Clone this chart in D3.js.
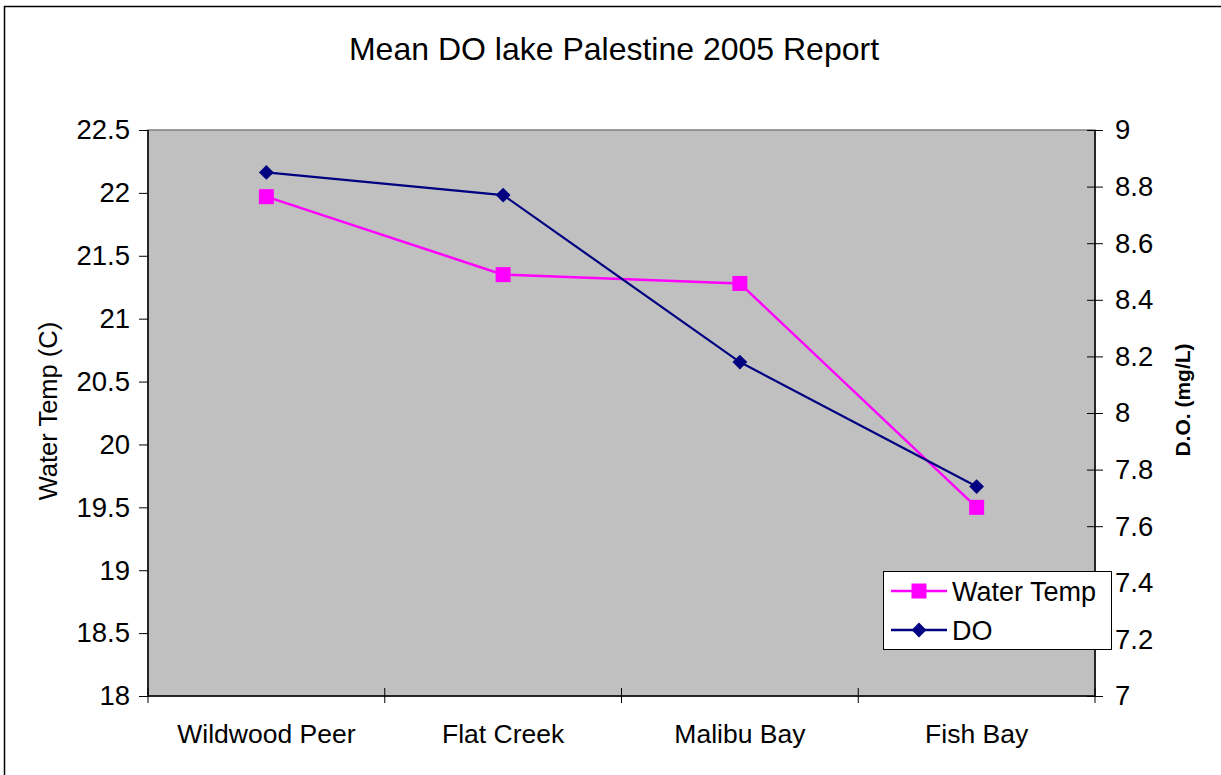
<!DOCTYPE html>
<html>
<head>
<meta charset="utf-8">
<script src="https://cdn.jsdelivr.net/npm/d3@7"></script>
<style>
  body { margin: 0; background: #fff; }
  text { font-family: "Liberation Sans", Arial, sans-serif; fill: #000; }
</style>
</head>
<body>
<script>
// chart data
const sites = ['Wildwood Peer', 'Flat Creek', 'Malibu Bay', 'Fish Bay'];
const waterTemp = [21.97, 21.35, 21.28, 19.5];
const dissolvedO2 = [8.85, 8.77, 8.18, 7.74];
const tempTicks = [18, 18.5, 19, 19.5, 20, 20.5, 21, 21.5, 22, 22.5];
const doTicks = [7, 7.2, 7.4, 7.6, 7.8, 8, 8.2, 8.4, 8.6, 8.8, 9];

const width = 1221, height = 775;
const plot = { left: 148, right: 1095, top: 130, bottom: 696 };

const svg = d3.select('body').append('svg')
  .attr('width', width)
  .attr('height', height);

// outer chart border
svg.append('rect')
  .attr('x', 4.5).attr('y', 6.5)
  .attr('width', width + 10).attr('height', height + 10)
  .attr('fill', '#fff')
  .attr('stroke', '#000').attr('stroke-width', 1.5);

// scales
const x = d3.scaleBand().domain(sites).range([plot.left, plot.right]);
const yL = d3.scaleLinear().domain([18, 22.5]).range([plot.bottom, plot.top]);
const yR = d3.scaleLinear().domain([7, 9]).range([plot.bottom, plot.top]);

// plot area
svg.append('rect')
  .attr('x', plot.left).attr('y', plot.top)
  .attr('width', plot.right - plot.left).attr('height', plot.bottom - plot.top)
  .attr('fill', '#c0c0c0')
  .attr('stroke', '#808080').attr('stroke-width', 1.5);

// left axis
const leftAxis = svg.append('g')
  .attr('transform', `translate(${plot.left},0)`)
  .call(d3.axisLeft(yL).tickValues(tempTicks).tickSize(9).tickPadding(9).tickFormat(d3.format('')));

// right axis
const rightAxis = svg.append('g')
  .attr('transform', `translate(${plot.right},0)`)
  .call(d3.axisRight(yR).tickValues(doTicks).tickSize(8).tickPadding(12).tickFormat(d3.format('')));
rightAxis.selectAll('.tick line').attr('x1', -8);

// bottom axis with ticks between categories
const bottomAxis = svg.append('g')
  .attr('transform', `translate(0,${plot.bottom})`)
  .call(d3.axisBottom(x).tickSize(0).tickPadding(28));
bottomAxis.selectAll('.tick line').remove();
bottomAxis.selectAll('.boundary')
  .data(d3.range(sites.length + 1))
  .enter().append('line')
  .attr('x1', i => plot.left + i * x.step())
  .attr('x2', i => plot.left + i * x.step())
  .attr('y1', -8).attr('y2', 7)
  .attr('stroke', '#000');

[leftAxis, rightAxis, bottomAxis].forEach(g => {
  g.select('.domain').attr('stroke', '#000').attr('stroke-width', 1.5);
  g.selectAll('.tick line').attr('stroke', '#000');
  g.selectAll('text').style('font-size', '27.5px').attr('font-family', null);
});
bottomAxis.selectAll('text').style('font-size', '26.5px');
leftAxis.select('.domain').attr('d', `M0,${plot.top}V${plot.bottom}`);
rightAxis.select('.domain').attr('d', `M0,${plot.top}V${plot.bottom}`);
bottomAxis.select('.domain').attr('d', `M${plot.left},0H${plot.right}`);

const cx = d => x(d) + x.bandwidth() / 2;

// water temp series
svg.append('path')
  .datum(waterTemp)
  .attr('fill', 'none')
  .attr('stroke', '#ff00ff').attr('stroke-width', 2.5)
  .attr('d', d3.line().x((d, i) => cx(sites[i])).y(d => yL(d)));
svg.selectAll('.sq')
  .data(waterTemp)
  .enter().append('rect')
  .attr('x', (d, i) => cx(sites[i]) - 7.5)
  .attr('y', d => yL(d) - 7.5)
  .attr('width', 15).attr('height', 15)
  .attr('fill', '#ff00ff');

// DO series
svg.append('path')
  .datum(dissolvedO2)
  .attr('fill', 'none')
  .attr('stroke', '#000080').attr('stroke-width', 2.2)
  .attr('d', d3.line().x((d, i) => cx(sites[i])).y(d => yR(d)));
svg.selectAll('.dm')
  .data(dissolvedO2)
  .enter().append('path')
  .attr('transform', (d, i) => `translate(${cx(sites[i])},${yR(d)}) rotate(45)`)
  .attr('d', d3.symbol().type(d3.symbolSquare).size(110))
  .attr('fill', '#000080');

// titles
svg.append('text')
  .attr('x', 614).attr('y', 60)
  .attr('text-anchor', 'middle')
  .style('font-size', '32px')
  .text('Mean DO lake Palestine 2005 Report');

svg.append('text')
  .attr('transform', 'translate(57,411) rotate(-90)')
  .attr('text-anchor', 'middle')
  .style('font-size', '25.5px')
  .text('Water Temp (C)');

svg.append('text')
  .attr('transform', 'translate(1190,400) rotate(-90)')
  .attr('text-anchor', 'middle')
  .style('font-size', '21px')
  .style('font-weight', 'bold')
  .text('D.O. (mg/L)');

// legend
const legend = svg.append('g').attr('transform', 'translate(883,571)');
legend.append('rect')
  .attr('x', 0.5).attr('y', 0.5)
  .attr('width', 228).attr('height', 78)
  .attr('fill', '#fff').attr('stroke', '#000').attr('stroke-width', 1);
const items = [
  { name: 'Water Temp', color: '#ff00ff', shape: 'square' },
  { name: 'DO', color: '#000080', shape: 'diamond' }
];
const row = legend.selectAll('.item')
  .data(items)
  .enter().append('g')
  .attr('transform', (d, i) => `translate(0,${20 + i * 39})`);
row.append('line')
  .attr('x1', 8).attr('x2', 64)
  .attr('stroke', d => d.color).attr('stroke-width', 2.5);
row.append('path')
  .attr('transform', d => `translate(36,0) rotate(${d.shape === 'diamond' ? 45 : 0})`)
  .attr('d', d => d3.symbol().type(d3.symbolSquare).size(d.shape === 'diamond' ? 110 : 225)())
  .attr('fill', d => d.color);
row.append('text')
  .attr('x', 69).attr('y', 10)
  .style('font-size', '27px')
  .text(d => d.name);
</script>
</body>
</html>
